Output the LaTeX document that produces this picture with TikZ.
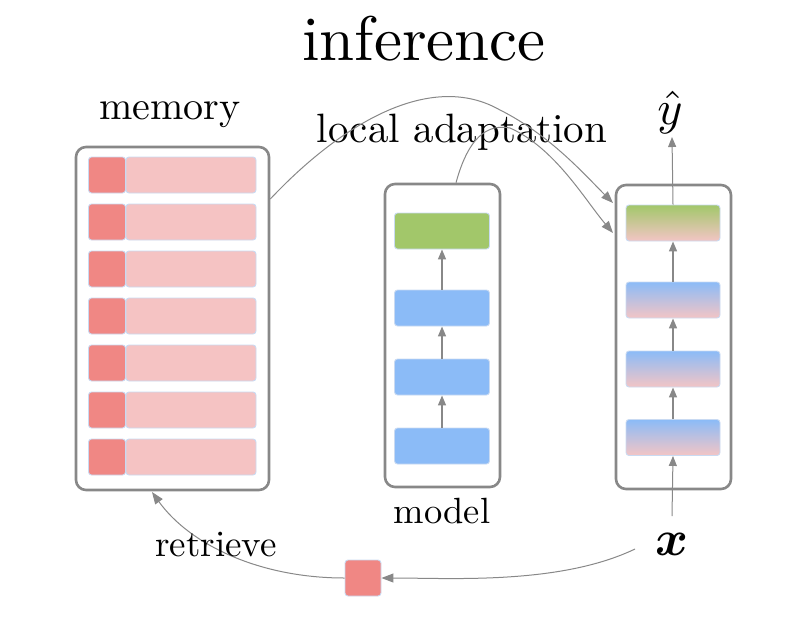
\RequirePackage{fix-cm}
\documentclass[tikz,border=0pt]{standalone}
\usepackage{bm}
\usetikzlibrary{arrows.meta}
\definecolor{edgegray}{HTML}{888888}
\definecolor{keyred}{HTML}{F08784}
\definecolor{valpink}{HTML}{F5C3C3}
\definecolor{cellline}{HTML}{C9DAF2}
\definecolor{layblue}{HTML}{8BBBF7}
\definecolor{laygreen}{HTML}{A2C76A}
\definecolor{laypink}{HTML}{F3C5C5}
\tikzset{
  container/.style={draw=edgegray, line width=2.6pt, rounded corners=10pt, inner sep=0pt},
  cell/.style={draw=cellline, line width=0.9pt, rounded corners=3pt, inner sep=0pt, minimum height=36pt},
  keycell/.style={cell, fill=keyred, minimum width=37pt},
  valcell/.style={cell, fill=valpink, minimum width=130pt},
  blocklay/.style={cell, minimum width=95pt},
  conn/.style={draw=edgegray, line width=1pt, -{Triangle[length=12pt,width=9pt]}},
  inarrow/.style={draw=edgegray, line width=1.5pt, -{Triangle[length=10pt,width=8pt]}},
  lbl/.style={inner sep=0pt, anchor=base, font=\fontsize{10}{12}\selectfont},
}
\begin{document}
\begin{tikzpicture}[x=1pt,y=-1pt]
\useasboundingbox (0,0) rectangle (800,616);

% title
\node[lbl, scale=6.3] (title) at (424,60) {inference};

% memory
\node[lbl, scale=4.0] (memlbl) at (170,119) {memory};
\node[container, minimum width=193pt, minimum height=343pt] (mem) at (172.5,318.5) {};
\foreach \i in {0,...,6} {
  \node[keycell] (k\i) at (107,175+47*\i) {};
  \node[valcell] (v\i) at (191,175+47*\i) {};
}

% model
\node[container, minimum width=115pt, minimum height=303pt] (model) at (442.5,335.5) {};
\node[blocklay, fill=laygreen] (m4) at (442,231) {};
\node[blocklay, fill=layblue] (m3) at (442,308) {};
\node[blocklay, fill=layblue] (m2) at (442,377) {};
\node[blocklay, fill=layblue] (m1) at (442,446) {};
\draw[inarrow] (m1.north) -- (m2.south);
\draw[inarrow] (m2.north) -- (m3.south);
\draw[inarrow] (m3.north) -- (m4.south);
\node[lbl, scale=3.65] (modellbl) at (442,523) {model};

% adapted model
\node[container, minimum width=115pt, minimum height=304pt] (amodel) at (673.5,337) {};
\node[blocklay, minimum width=94pt, top color=laygreen, bottom color=laypink] (a4) at (673,223) {};
\node[blocklay, minimum width=94pt, top color=layblue, bottom color=laypink] (a3) at (673,300) {};
\node[blocklay, minimum width=94pt, top color=layblue, bottom color=laypink] (a2) at (673,369) {};
\node[blocklay, minimum width=94pt, top color=layblue, bottom color=laypink] (a1) at (673,437.5) {};
\draw[inarrow] (a1.north) -- (a2.south);
\draw[inarrow] (a2.north) -- (a3.south);
\draw[inarrow] (a3.north) -- (a4.south);

\node[lbl, scale=4.8] (yhat) at (670,124) {$\hat{y}$};
\coordinate (ytip) at (672,137);
\draw[inarrow, line width=1pt] (a4.north) -- (ytip);

\node[lbl, scale=5.0] (xin) at (672,555) {$\bm{x}$};
\coordinate (xstart) at (672,516);
\draw[inarrow, line width=1pt] (xstart) -- (a1.south);

% local adaptation
\node[lbl, scale=4.1] (adlbl) at (462,142) {local adaptation};
\draw[conn] (mem.east |- 0,199) .. controls (340,125) and (430,70) .. (500,110) .. controls (550,135) and (585,175) .. (613,203);
\draw[conn] (model.north -| 456,0) .. controls (465,150) and (480,122) .. (510,128) .. controls (555,148) and (585,200) .. (613,233);

% retrieval
\node[keycell, minimum width=36pt] (q) at (363,578) {};
\draw[conn] (635,549) .. controls (560,585) and (450,578) .. (q.east);
\draw[conn] (q.west) .. controls (260,578) and (190,545) .. (152,492);
\node[lbl, scale=3.7] (retlbl) at (216,556) {retrieve};
\end{tikzpicture}
\end{document}
